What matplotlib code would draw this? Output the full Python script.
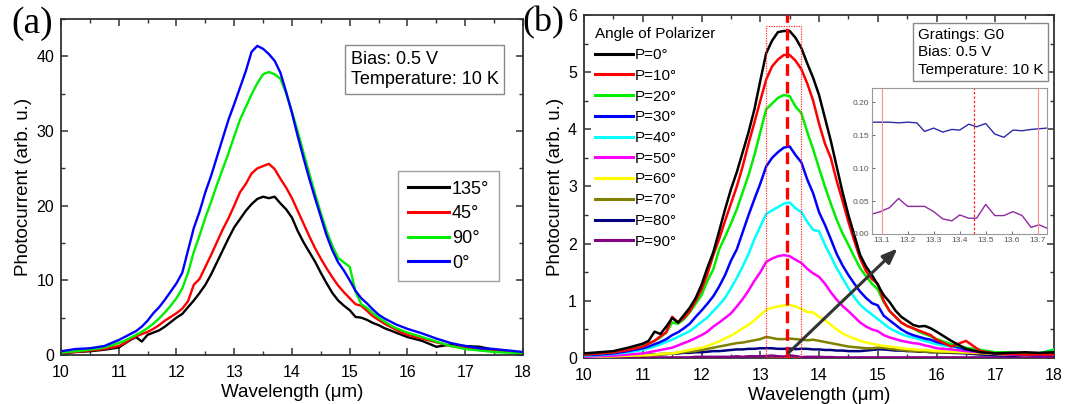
import numpy as np
import matplotlib
matplotlib.use('Agg')
import matplotlib.pyplot as plt
from matplotlib.ticker import MultipleLocator
from matplotlib.patches import Rectangle

plt.rcParams['font.family'] = ['Liberation Sans', 'DejaVu Sans']

# shared wavelength sampling (um)
wavelength = [10.0, 10.25, 10.5, 10.75,
              11.0, 11.1, 11.2, 11.3, 11.4, 11.5, 11.6, 11.7, 11.8, 11.9,
              12.0, 12.1, 12.2, 12.3, 12.4, 12.5, 12.6, 12.7, 12.8, 12.9,
              13.0, 13.1, 13.2, 13.3, 13.4, 13.5, 13.6, 13.7, 13.8, 13.9,
              14.0, 14.1, 14.2, 14.3, 14.4, 14.5, 14.6, 14.7, 14.8, 14.9,
              15.0, 15.1, 15.2, 15.3, 15.4, 15.5, 15.6, 15.7, 15.8, 15.9,
              16.0,
              16.25, 16.5, 16.75, 17.0, 17.25, 17.5, 17.75, 18.0]

# panel (a): photocurrent vs analyser angle
a_labels = ['135°', '45°', '90°', '0°']
a_colors = ['black', '#ff0000', '#00ee00', '#0000ff']
a_135 = [0.2, 0.4, 0.5, 0.7,
         1.0, 1.5, 2.0, 2.4, 1.8, 2.7, 3.0, 3.3, 3.8, 4.4,
         5.0, 5.5, 6.4, 7.3, 8.3, 9.4, 10.8, 12.4, 14.0, 15.6,
         17.1, 18.2, 19.3, 20.2, 20.9, 21.2, 21.0, 21.2, 20.3, 19.5,
         18.4, 16.6, 15.1, 13.8, 12.5, 11.0, 9.6, 8.3, 7.3, 6.6,
         6.0, 5.1, 5.0, 4.7, 4.3, 4.0, 3.6, 3.3, 3.0, 2.7,
         2.4,
         1.9, 1.1, 1.4, 1.2, 1.1, 0.7, 0.5, 0.2]
a_45 = [0.3, 0.4, 0.6, 0.8,
        1.2, 1.6, 2.1, 2.5, 2.8, 3.1, 3.5, 4.0, 4.6, 5.1,
        5.6, 6.2, 7.2, 9.4, 10.2, 11.8, 13.4, 15.1, 16.8, 18.3,
        20.0, 21.8, 22.9, 24.3, 25.0, 25.3, 25.6, 24.9, 23.6, 22.4,
        21.0, 19.3, 17.6, 15.9, 14.3, 12.9, 11.6, 10.4, 9.3, 8.4,
        7.6, 6.8, 6.6, 5.9, 5.2, 4.7, 4.2, 3.8, 3.4, 3.0,
        2.7,
        2.2, 1.7, 1.2, 1.0, 0.8, 0.6, 0.5, 0.3]
a_90 = [0.3, 0.5, 0.7, 1.0,
        1.6, 1.9, 2.3, 2.7, 3.1, 3.6, 4.2, 4.9, 5.7, 6.6,
        7.6, 8.9, 11.0, 13.8, 16.0, 18.4, 20.5, 22.8, 24.9, 27.0,
        29.3, 31.5, 33.2, 34.9, 36.4, 37.6, 37.9, 37.6, 37.0, 35.0,
        32.6, 29.9, 27.1, 24.3, 21.6, 19.0, 16.6, 14.6, 13.0, 12.4,
        11.8, 8.5, 6.8, 6.3, 5.6, 5.0, 4.5, 4.0, 3.6, 3.3,
        3.0,
        2.4, 1.8, 1.2, 0.8, 0.6, 0.4, 0.3, 0.2]
a_0 = [0.5, 0.8, 0.9, 1.2,
       2.0, 2.4, 2.8, 3.2, 3.8, 4.6, 5.6, 6.4, 7.4, 8.5,
       9.6, 11.0, 14.0, 17.0, 19.2, 21.8, 24.0, 26.5, 29.0, 31.5,
       33.6, 35.8, 38.0, 40.6, 41.4, 41.0, 40.3, 39.4, 37.8, 35.2,
       32.4, 29.3, 26.4, 23.6, 21.0, 18.5, 16.0, 14.0, 12.4, 11.3,
       10.0, 8.6, 7.6, 6.9, 6.1, 5.4, 4.9, 4.5, 4.1, 3.8,
       3.5,
       2.9, 2.2, 1.6, 1.2, 0.9, 0.8, 0.6, 0.4]

# panel (b): photocurrent vs polarizer angle
b_labels = ['P=0°', 'P=10°', 'P=20°', 'P=30°', 'P=40°',
            'P=50°', 'P=60°', 'P=70°', 'P=80°', 'P=90°']
b_colors = ['black', '#ff0000', '#00ee00', '#0000ff', '#00ffff',
            '#ff00ff', '#ffff00', '#808000', '#000080', '#800080']
b_0 = [0.08, 0.10, 0.12, 0.18,
       0.25, 0.30, 0.46, 0.42, 0.55, 0.70, 0.62, 0.75, 0.88, 1.05,
       1.28, 1.58, 1.85, 2.22, 2.60, 2.95, 3.25, 3.60, 3.95, 4.35,
       4.85, 5.33, 5.55, 5.70, 5.72, 5.72, 5.60, 5.42, 5.15, 4.90,
       4.60, 4.20, 3.80, 3.35, 2.90, 2.50, 2.15, 1.80, 1.60, 1.45,
       1.28, 1.10, 0.98, 0.83, 0.72, 0.65, 0.58, 0.55, 0.56, 0.52,
       0.46,
       0.30, 0.16, 0.10, 0.08, 0.09, 0.10, 0.09, 0.10]
b_10 = [0.06, 0.08, 0.10, 0.14,
        0.20, 0.25, 0.30, 0.38, 0.45, 0.72, 0.62, 0.70, 0.82, 1.00,
        1.20, 1.47, 1.80, 2.08, 2.40, 2.70, 3.00, 3.35, 3.75, 4.12,
        4.50, 4.87, 5.10, 5.22, 5.30, 5.30, 5.20, 5.05, 4.80, 4.50,
        4.10, 3.75, 3.50, 3.10, 2.75, 2.38, 2.05, 1.74, 1.52, 1.38,
        1.30, 1.00, 0.82, 0.72, 0.62, 0.56, 0.52, 0.48, 0.44, 0.40,
        0.32,
        0.20, 0.30, 0.12, 0.08, 0.07, 0.06, 0.06, 0.06]
b_20 = [0.06, 0.08, 0.10, 0.15,
        0.20, 0.25, 0.30, 0.36, 0.45, 0.62, 0.60, 0.68, 0.80, 0.95,
        1.10, 1.35, 1.55, 1.90, 2.12, 2.35, 2.60, 2.90, 3.20, 3.55,
        3.95, 4.35, 4.45, 4.55, 4.60, 4.58, 4.40, 4.28, 3.95, 3.65,
        3.32, 3.00, 2.70, 2.42, 2.18, 1.98, 1.77, 1.57, 1.43, 1.30,
        1.20, 0.98, 0.83, 0.72, 0.62, 0.56, 0.52, 0.46, 0.42, 0.38,
        0.33,
        0.24, 0.18, 0.14, 0.10, 0.10, 0.08, 0.08, 0.14]
b_30 = [0.05, 0.06, 0.08, 0.12,
        0.17, 0.20, 0.24, 0.28, 0.33, 0.40, 0.45, 0.52, 0.60, 0.72,
        0.83, 0.95, 1.08, 1.25, 1.45, 1.70, 1.90, 2.20, 2.50, 2.78,
        3.05, 3.35, 3.50, 3.60, 3.68, 3.70, 3.55, 3.42, 3.12, 2.88,
        2.55, 2.33, 2.08, 1.82, 1.62, 1.45, 1.30, 1.16, 1.05, 0.96,
        0.92, 0.74, 0.66, 0.58, 0.50, 0.44, 0.40, 0.37, 0.34, 0.32,
        0.28,
        0.22, 0.15, 0.11, 0.08, 0.07, 0.06, 0.06, 0.06]
b_40 = [0.04, 0.05, 0.07, 0.10,
        0.14, 0.17, 0.20, 0.24, 0.28, 0.32, 0.37, 0.42, 0.47, 0.55,
        0.63, 0.71, 0.82, 0.93, 1.05, 1.22, 1.40, 1.60, 1.82, 2.08,
        2.30, 2.52, 2.58, 2.64, 2.70, 2.72, 2.62, 2.55, 2.38, 2.24,
        2.22, 1.98, 1.78, 1.57, 1.40, 1.22, 1.06, 0.93, 0.84, 0.76,
        0.68, 0.60, 0.52, 0.47, 0.42, 0.38, 0.36, 0.33, 0.30, 0.27,
        0.24,
        0.20, 0.16, 0.12, 0.10, 0.08, 0.07, 0.08, 0.15]
b_50 = [0.02, 0.03, 0.04, 0.06,
        0.08, 0.10, 0.12, 0.14, 0.16, 0.18, 0.22, 0.26, 0.30, 0.35,
        0.40, 0.46, 0.55, 0.62, 0.70, 0.78, 0.90, 1.03, 1.18, 1.35,
        1.50, 1.68, 1.74, 1.78, 1.80, 1.78, 1.72, 1.66, 1.56, 1.48,
        1.42, 1.30, 1.15, 1.02, 0.91, 0.82, 0.72, 0.62, 0.55, 0.50,
        0.47, 0.40, 0.36, 0.33, 0.30, 0.28, 0.26, 0.25, 0.22, 0.20,
        0.17,
        0.15, 0.12, 0.10, 0.08, 0.06, 0.05, 0.05, 0.05]
b_60 = [0.02, 0.02, 0.03, 0.04,
        0.05, 0.05, 0.06, 0.07, 0.08, 0.08, 0.10, 0.12, 0.14, 0.16,
        0.18, 0.21, 0.25, 0.29, 0.34, 0.39, 0.45, 0.52, 0.58, 0.66,
        0.75, 0.84, 0.88, 0.90, 0.92, 0.93, 0.90, 0.86, 0.80, 0.80,
        0.72, 0.66, 0.58, 0.50, 0.43, 0.38, 0.34, 0.30, 0.27, 0.25,
        0.23, 0.21, 0.20, 0.19, 0.17, 0.16, 0.15, 0.14, 0.14, 0.13,
        0.12,
        0.11, 0.10, 0.09, 0.07, 0.06, 0.05, 0.06, 0.08]
b_70 = [0.03, 0.03, 0.03, 0.04,
        0.04, 0.05, 0.05, 0.06, 0.07, 0.08, 0.09, 0.10, 0.11, 0.12,
        0.14, 0.16, 0.18, 0.20, 0.22, 0.24, 0.26, 0.27, 0.29, 0.31,
        0.33, 0.37, 0.35, 0.33, 0.33, 0.34, 0.33, 0.32, 0.31, 0.32,
        0.30, 0.28, 0.26, 0.24, 0.22, 0.20, 0.19, 0.18, 0.17, 0.17,
        0.18, 0.18, 0.16, 0.15, 0.14, 0.13, 0.12, 0.12, 0.11, 0.11,
        0.10,
        0.10, 0.09, 0.08, 0.08, 0.07, 0.06, 0.06, 0.06]
b_80 = [0.02, 0.03, 0.04, 0.05,
        0.05, 0.06, 0.06, 0.07, 0.07, 0.08, 0.08, 0.09, 0.09, 0.10,
        0.10, 0.11, 0.12, 0.12, 0.13, 0.14, 0.15, 0.15, 0.16, 0.16,
        0.17, 0.17, 0.17, 0.16, 0.16, 0.165, 0.155, 0.16, 0.16, 0.15,
        0.15, 0.14, 0.14, 0.13, 0.13, 0.12, 0.12, 0.12, 0.13, 0.14,
        0.15, 0.15, 0.14, 0.13, 0.13, 0.12, 0.12, 0.11, 0.11, 0.10,
        0.10,
        0.09, 0.08, 0.06, 0.05, 0.04, 0.04, 0.04, 0.04]
b_90 = [0.01, 0.01, 0.00, 0.01,
        0.01, 0.01, 0.01, 0.01, 0.01, 0.01, 0.01, 0.01, 0.01, 0.02,
        0.02, 0.02, 0.02, 0.02, 0.02, 0.02, 0.03, 0.02, 0.03, 0.03,
        0.03, 0.035, 0.042, 0.03, 0.025, 0.045, 0.033, 0.015, 0.02, 0.02,
        0.02, 0.015, 0.015, 0.01, 0.01, 0.01, 0.01, 0.01, 0.01, 0.01,
        0.01, 0.01, 0.01, 0.01, 0.01, 0.01, 0.01, 0.01, 0.01, 0.01,
        0.01,
        0.01, 0.01, 0.01, 0.01, 0.01, 0.01, 0.01, 0.01]

# inset: zoom on the peak for P=80 and P=90
inset_wl = [13.06, 13.095, 13.13, 13.165, 13.2, 13.235, 13.265, 13.3, 13.335,
            13.37, 13.4, 13.435, 13.465, 13.5, 13.535, 13.57, 13.605, 13.64,
            13.675, 13.705, 13.735]
inset_80 = [0.170, 0.170, 0.170, 0.169, 0.170, 0.169, 0.156, 0.161, 0.155,
            0.159, 0.158, 0.167, 0.163, 0.168, 0.152, 0.147, 0.158, 0.157,
            0.159, 0.160, 0.161]
inset_90 = [0.030, 0.034, 0.040, 0.054, 0.042, 0.042, 0.042, 0.034, 0.023,
            0.020, 0.029, 0.024, 0.024, 0.045, 0.028, 0.028, 0.034, 0.028,
            0.010, 0.014, 0.009]

peak_wl = 13.46


def style_axes(ax, xminor, yminor):
    for s in ax.spines.values():
        s.set_linewidth(1.3)
        s.set_color('#333333')
    ax.xaxis.set_major_locator(MultipleLocator(1))
    ax.xaxis.set_minor_locator(MultipleLocator(xminor))
    ax.yaxis.set_minor_locator(MultipleLocator(yminor))
    ax.tick_params(which='both', direction='in', top=True, right=True,
                   labelsize=11.5, color='#333333')
    ax.tick_params(which='major', length=5, width=1.1)
    ax.tick_params(axis='x', which='major', pad=7)
    ax.tick_params(axis='y', which='major', pad=5)
    ax.tick_params(which='minor', length=3, width=1.0)


fig = plt.figure(figsize=(10.75, 4.04), dpi=100)

# ---- (a)
ax1 = fig.add_axes([0.0567, 0.1213, 0.4298, 0.8317])
for ys, lab, col in zip([a_135, a_45, a_90, a_0], a_labels, a_colors):
    ax1.plot(wavelength, ys, color=col, lw=1.7, label=lab)
ax1.set_xlim(10, 18)
ax1.set_ylim(0, 45)
ax1.yaxis.set_major_locator(MultipleLocator(10))
style_axes(ax1, 0.5, 5)
ax1.set_xlabel('Wavelength (μm)', fontsize=13.5, labelpad=3)
ax1.set_ylabel('Photocurrent (arb. u.)', fontsize=13.5, labelpad=3)
ax1.text(0.627, 0.905, 'Bias: 0.5 V\nTemperature: 10 K', transform=ax1.transAxes,
         fontsize=13, va='top', ha='left', linespacing=1.25,
         bbox=dict(boxstyle='square,pad=0.3', fc='white', ec='#888888', lw=1))
leg1 = ax1.legend(loc='upper left', bbox_to_anchor=(0.729, 0.548), fontsize=13,
                  frameon=True, fancybox=False, edgecolor='#888888',
                  handlelength=2.3, handletextpad=0.15, labelspacing=0.42,
                  borderpad=0.55, borderaxespad=0)
leg1.get_frame().set_linewidth(1)
for ln in leg1.get_lines():
    ln.set_linewidth(2.2)
fig.text(0.011, 0.985, '(a)', family='Liberation Serif', fontsize=27, va='top', ha='left')

# ---- (b)
ax2 = fig.add_axes([0.5433, 0.1139, 0.4372, 0.849])
b_series = [b_0, b_10, b_20, b_30, b_40, b_50, b_60, b_70, b_80, b_90]
for i, (ys, lab, col) in enumerate(zip(b_series, b_labels, b_colors)):
    ax2.plot(wavelength, ys, color=col, lw=1.8, label=lab, zorder=20 - i)
ax2.set_xlim(10, 18)
ax2.set_ylim(0, 6)
ax2.yaxis.set_major_locator(MultipleLocator(1))
style_axes(ax2, 0.5, 0.5)
ax2.set_xlabel('Wavelength (μm)', fontsize=13.5, labelpad=3)
ax2.set_ylabel('Photocurrent (arb. u.)', fontsize=13.5, labelpad=3)

# peak marker and zoom window
ax2.axvline(peak_wl, color='#ff0000', lw=2.4, ls=(0, (3.5, 1.8)), zorder=30)
ax2.add_patch(Rectangle((13.1, 0.02), 0.6, 5.78, fill=False, ec='#ff3030',
                        lw=0.9, ls=(0, (1, 1)), zorder=30))
ax2.annotate('', xy=(15.37, 1.95), xytext=(13.45, 0.06),
             arrowprops=dict(arrowstyle='-|>,head_length=0.9,head_width=0.35',
                             color='#333333', lw=2.2), zorder=31)

leg2 = ax2.legend(loc='upper left', bbox_to_anchor=(0.0, 0.995), fontsize=11,
                  title='Angle of Polarizer', title_fontsize=11, frameon=False,
                  handlelength=2.5, handletextpad=0.15, labelspacing=0.44,
                  borderaxespad=0.3, alignment='left')
for ln in leg2.get_lines():
    ln.set_linewidth(2.2)

ax2.text(0.71, 0.962, 'Gratings: G0\nBias: 0.5 V\nTemperature: 10 K',
         transform=ax2.transAxes, fontsize=11, va='top', ha='left', linespacing=1.3,
         bbox=dict(boxstyle='square,pad=0.3', fc='white', ec='#888888', lw=1),
         zorder=40)
fig.text(0.486, 0.985, '(b)', family='Liberation Serif', fontsize=26, va='top', ha='left')

# ---- inset
ax3 = fig.add_axes([0.8112, 0.4208, 0.1628, 0.3614])
ax3.plot(inset_wl, inset_80, color='#2c2ca5', lw=1.0)
ax3.plot(inset_wl, inset_90, color='#8e2aa0', lw=1.0)
ax3.axvline(13.1, color='#ff9090', lw=0.8)
ax3.axvline(13.7, color='#ff9090', lw=0.8)
ax3.axvline(peak_wl - 0.005, color='#ff2020', lw=0.9, ls=(0, (2, 1.5)))
ax3.set_xlim(13.063, 13.736)
ax3.set_ylim(0, 0.222)
ax3.xaxis.set_major_locator(MultipleLocator(0.1))
ax3.yaxis.set_major_locator(MultipleLocator(0.05))
ax3.xaxis.set_major_formatter(plt.FormatStrFormatter('%.1f'))
ax3.yaxis.set_major_formatter(plt.FormatStrFormatter('%.2f'))
ax3.tick_params(which='both', direction='in', labelsize=6, colors='#555555',
                length=2, width=0.6, pad=2)
for s in ax3.spines.values():
    s.set_linewidth(0.8)
    s.set_color('#999999')

fig.savefig('out.png', dpi=100)
